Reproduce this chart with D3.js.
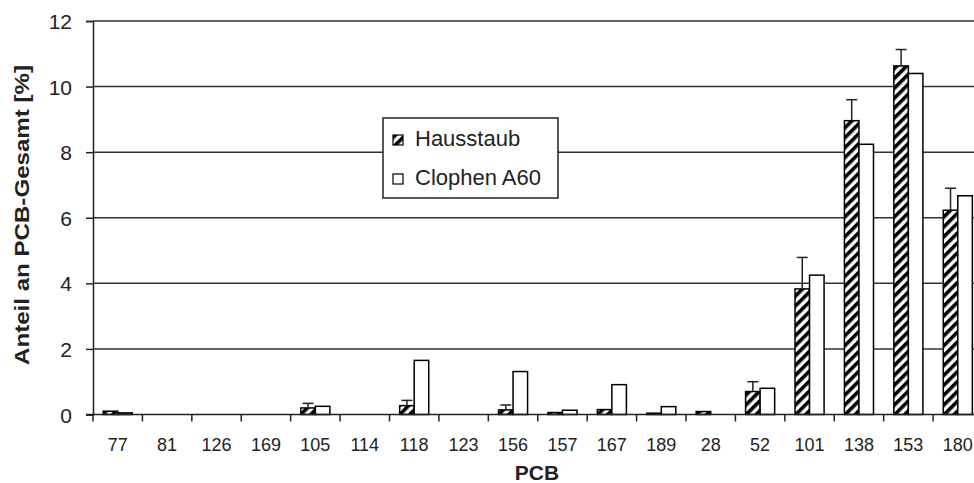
<!DOCTYPE html>
<html>
<head>
<meta charset="utf-8">
<script src="https://cdn.jsdelivr.net/npm/d3@7"></script>
<style>
  body { margin: 0; background: #fff; }
  text { font-family: "Liberation Sans", Arial, sans-serif; fill: #222; }
</style>
</head>
<body>
<svg id="plot"></svg>
<script>
// Data
const categories = ["77", "81", "126", "169", "105", "114", "118", "123", "156", "157", "167", "189", "28", "52", "101", "138", "153", "180"];
const seriesNames = ["Hausstaub", "Clophen A60"];
const hausstaub = [0.10, 0, 0, 0, 0.20, 0, 0.27, 0, 0.14, 0.06, 0.15, 0.04, 0.09, 0.70, 3.83, 8.96, 10.63, 6.23];
const hausstaubErr = [0, 0, 0, 0, 0.14, 0, 0.16, 0, 0.15, 0, 0, 0, 0, 0.30, 0.96, 0.64, 0.50, 0.67];
const clophen = [0.05, 0, 0, 0, 0.25, 0, 1.65, 0, 1.31, 0.13, 0.91, 0.24, 0, 0.80, 4.25, 8.24, 10.40, 6.67];
const yTicks = [0, 2, 4, 6, 8, 10, 12];

let width = 974;
let height = 483;
let margin = { top: 21, bottom: 68.5, left: 93, right: -8.5 };

let svg = d3.select('#plot')
    .attr('width', width)
    .attr('height', height)
    .style('background', '#FFFFFF');

// hatch for Hausstaub
let defs = svg.append('defs');
defs.append('pattern')
    .attr('id', 'hatch')
    .attr('patternUnits', 'userSpaceOnUse')
    .attr('width', 7)
    .attr('height', 7)
    .attr('patternTransform', 'rotate(45)')
    .call(p => {
        p.append('rect').attr('width', 7).attr('height', 7).attr('fill', '#fff');
        p.append('rect').attr('width', 3.6).attr('height', 7).attr('fill', '#000');
    });

let xScale = d3.scaleBand()
    .domain(categories)
    .range([margin.left, width - margin.right])
    .padding(0);

let xInner = d3.scaleBand()
    .domain(seriesNames)
    .range([0, xScale.step()])
    .paddingInner(0)
    .paddingOuter(0.7);

let yScale = d3.scaleLinear()
    .domain([0, 12])
    .range([height - margin.bottom, margin.top]);

// gridlines
svg.append('g')
    .selectAll('line')
    .data(yTicks.filter(d => d > 0))
    .enter()
    .append('line')
    .attr('x1', margin.left)
    .attr('x2', width)
    .attr('y1', d => yScale(d))
    .attr('y2', d => yScale(d))
    .attr('stroke', '#333')
    .attr('stroke-width', 1.5);

// bars
const rows = categories.map((c, i) => ({ cat: c, h: hausstaub[i], e: hausstaubErr[i], c60: clophen[i] }));

svg.append('g')
    .selectAll('rect')
    .data(rows.filter(d => d.h > 0))
    .enter()
    .append('rect')
    .attr('x', d => xScale(d.cat) + xInner(seriesNames[0]))
    .attr('y', d => yScale(d.h))
    .attr('width', xInner.bandwidth())
    .attr('height', d => yScale(0) - yScale(d.h))
    .attr('fill', 'url(#hatch)')
    .attr('stroke', '#000')
    .attr('stroke-width', 1.5);

svg.append('g')
    .selectAll('rect')
    .data(rows.filter(d => d.c60 > 0))
    .enter()
    .append('rect')
    .attr('x', d => xScale(d.cat) + xInner(seriesNames[1]))
    .attr('y', d => yScale(d.c60))
    .attr('width', xInner.bandwidth())
    .attr('height', d => yScale(0) - yScale(d.c60))
    .attr('fill', '#fff')
    .attr('stroke', '#000')
    .attr('stroke-width', 1.5);

// error bars (upper only)
let err = svg.append('g')
    .selectAll('g')
    .data(rows.filter(d => d.e > 0))
    .enter()
    .append('g')
    .attr('stroke', '#222')
    .attr('stroke-width', 1.5);

const errX = d => xScale(d.cat) + xInner(seriesNames[0]) + xInner.bandwidth() / 2;
err.append('line')
    .attr('x1', errX).attr('x2', errX)
    .attr('y1', d => yScale(d.h))
    .attr('y2', d => yScale(d.h + d.e));
err.append('line')
    .attr('x1', d => errX(d) - 5.5).attr('x2', d => errX(d) + 5.5)
    .attr('y1', d => yScale(d.h + d.e))
    .attr('y2', d => yScale(d.h + d.e));

// x axis: labels centred, ticks at category boundaries
let xAxis = svg.append('g')
    .attr('transform', `translate(0, ${yScale(0)})`);

xAxis.append('line')
    .attr('x1', margin.left - 7).attr('x2', width)
    .attr('stroke', '#222').attr('stroke-width', 1.5);

xAxis.selectAll('.bt')
    .data(d3.range(categories.length + 1))
    .enter()
    .append('line')
    .attr('class', 'bt')
    .attr('x1', i => margin.left + i * xScale.step())
    .attr('x2', i => margin.left + i * xScale.step())
    .attr('y1', 0).attr('y2', 7)
    .attr('stroke', '#222').attr('stroke-width', 1.5);

xAxis.selectAll('.lab')
    .data(categories)
    .enter()
    .append('text')
    .attr('class', 'lab')
    .attr('x', d => xScale(d) + xScale.bandwidth() / 2)
    .attr('y', 36.5)
    .attr('text-anchor', 'middle')
    .style('font-size', '18px')
    .text(d => d);

// y axis
let yAxis = svg.append('g')
    .attr('transform', `translate(${margin.left}, 0)`)
    .call(d3.axisLeft(yScale).tickValues(yTicks).tickSize(7).tickPadding(14).tickFormat(d3.format('d')));

yAxis.select('.domain').attr('stroke', '#222').attr('stroke-width', 1.5);
yAxis.selectAll('.tick line').attr('stroke', '#222').attr('stroke-width', 1.5);
yAxis.selectAll('.tick text')
    .style('font-size', '21px')
    .style('font-family', '"Liberation Sans", Arial, sans-serif')
    .attr('fill', '#222')
    .attr('dy', '0.36em');

// axis titles
svg.append('text')
    .attr('transform', 'rotate(-90)')
    .attr('x', -215)
    .attr('y', 29)
    .attr('text-anchor', 'middle')
    .attr('textLength', 300)
    .attr('lengthAdjust', 'spacingAndGlyphs')
    .style('font-size', '20px')
    .style('font-weight', 'bold')
    .text('Anteil an PCB-Gesamt [%]');

svg.append('text')
    .attr('x', 537)
    .attr('y', 480)
    .attr('text-anchor', 'middle')
    .style('font-size', '21px')
    .style('font-weight', 'bold')
    .text('PCB');

// legend
let legend = svg.append('g')
    .attr('class', 'legend')
    .attr('transform', 'translate(383, 118)');

legend.append('rect')
    .attr('width', 175)
    .attr('height', 80)
    .attr('fill', '#fff')
    .attr('stroke', '#222')
    .attr('stroke-width', 1.5);

let item = legend.selectAll('.item')
    .data(seriesNames)
    .enter()
    .append('g')
    .attr('class', 'item')
    .attr('transform', (d, i) => `translate(10, ${17 + i * 39})`);

item.append('rect')
    .attr('width', 10)
    .attr('height', 10)
    .attr('fill', (d, i) => i === 0 ? 'url(#hatch)' : '#fff')
    .attr('stroke', '#000')
    .attr('stroke-width', 1.2);

item.append('text')
    .attr('x', 22)
    .attr('y', 11)
    .style('font-size', '22px')
    .text(d => d);
</script>
</body>
</html>
